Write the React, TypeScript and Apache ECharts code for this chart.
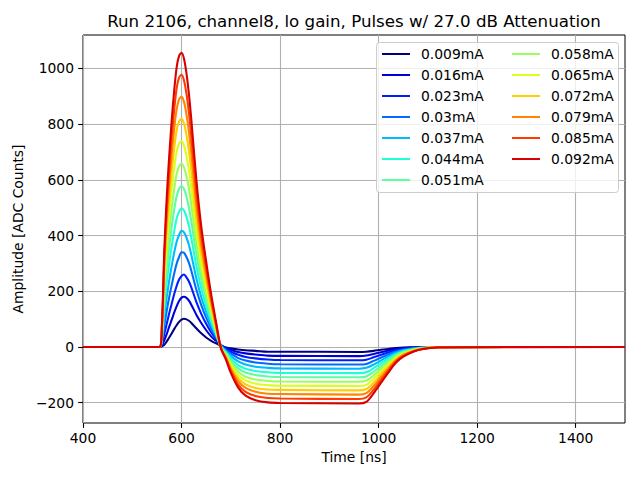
import React, { useEffect, useRef } from "react";
import * as echarts from "echarts";

const titleText = "Run 2106, channel8, lo gain, Pulses w/ 27.0 dB Attenuation";
const xName = "Time [ns]";
const yName = "Amplitude [ADC Counts]";

const xTicks = [400, 600, 800, 1000, 1200, 1400];
const yTicks = [-200, 0, 200, 400, 600, 800, 1000];

const times = [
  400, 555, 560, 565, 570, 575, 580, 585, 590, 595, 600, 605, 610, 615, 620, 630, 640, 650, 660, 670, 680,
  690, 700, 715, 730, 750, 775, 800, 960, 975, 990, 1005, 1020, 1035, 1050, 1070, 1090, 1120, 1500,
];

const labels = [
  "0.009mA", "0.016mA", "0.023mA", "0.03mA", "0.037mA", "0.044mA", "0.051mA",
  "0.058mA", "0.065mA", "0.072mA", "0.079mA", "0.085mA", "0.092mA",
];

const colors = [
  "#00007f", "#0000d9", "#001dff", "#006cff", "#00baff", "#1cffda", "#5cff9b",
  "#9bff5b", "#daff1c", "#ffce00", "#ff8500", "#ff3c00", "#d90000",
];

const cur009 = [0, 0, 2, 8, 20, 34, 48, 64, 78, 90, 98, 101, 99, 94, 86, 67, 49, 34, 22, 13, 5, -2, -5, -9, -12, -14, -17, -17, -18, -17, -14, -10, -7, -4, -2, -1, 0, 0, 0];
const cur016 = [0, 0, 5, 24, 47, 73, 97, 123, 146, 165, 177, 180, 176, 166, 151, 116, 86, 60, 38, 22, 7, -4, -10, -18, -23, -27, -31, -32, -33, -31, -25, -19, -13, -8, -5, -2, -1, 0, 0];
const cur023 = [0, 0, 10, 47, 84, 121, 155, 189, 219, 242, 255, 260, 250, 235, 213, 162, 119, 83, 53, 29, 7, -7, -17, -28, -36, -41, -45, -47, -48, -46, -37, -28, -19, -12, -7, -3, -1, 0, 0];
const cur030 = [0, 0, 17, 78, 131, 179, 222, 263, 299, 323, 340, 338, 323, 302, 273, 206, 150, 105, 67, 35, 6, -11, -24, -40, -49, -56, -60, -62, -63, -61, -50, -38, -26, -16, -10, -5, -2, 0, 0];
const cur037 = [0, 0, 24, 112, 180, 239, 291, 338, 377, 402, 417, 411, 393, 366, 329, 247, 179, 126, 79, 40, 4, -15, -32, -52, -63, -71, -75, -77, -78, -75, -63, -48, -34, -21, -12, -6, -2, 0, 0];
const cur044 = [0, 0, 31, 146, 231, 301, 362, 415, 460, 486, 498, 490, 467, 434, 389, 291, 210, 148, 93, 46, 2, -19, -41, -65, -78, -86, -91, -93, -94, -91, -76, -58, -41, -26, -15, -8, -3, -1, 0];
const cur051 = [0, 0, 38, 179, 280, 361, 432, 492, 541, 568, 578, 567, 540, 500, 449, 334, 241, 170, 106, 51, 0, -23, -49, -77, -92, -101, -106, -108, -109, -106, -89, -68, -48, -30, -18, -9, -4, -1, 0];
const cur058 = [0, 0, 45, 211, 327, 420, 499, 566, 620, 649, 658, 645, 613, 568, 509, 377, 272, 192, 119, 57, -2, -27, -57, -89, -107, -117, -122, -124, -125, -121, -102, -78, -56, -35, -21, -11, -4, -1, 0];
const cur065 = [0, 0, 52, 244, 376, 480, 568, 642, 701, 731, 738, 723, 686, 635, 568, 421, 303, 214, 133, 63, -4, -31, -64, -101, -120, -132, -137, -139, -140, -136, -115, -88, -63, -39, -24, -12, -5, -1, 0];
const cur072 = [0, 0, 57, 270, 417, 532, 630, 712, 777, 810, 818, 802, 761, 703, 630, 466, 335, 237, 147, 70, -4, -34, -72, -112, -134, -147, -153, -154, -156, -151, -128, -98, -70, -44, -27, -13, -5, -1, 0];
const cur079 = [0, 0, 63, 296, 458, 584, 691, 781, 853, 889, 898, 880, 835, 772, 691, 512, 368, 260, 162, 76, -4, -38, -79, -123, -147, -161, -168, -169, -171, -166, -140, -108, -77, -48, -29, -15, -6, -1, 0];
const cur085 = [0, 0, 68, 322, 498, 635, 752, 850, 928, 967, 977, 957, 909, 840, 752, 557, 401, 283, 176, 83, -5, -41, -86, -135, -161, -176, -183, -185, -187, -181, -153, -118, -84, -52, -32, -16, -7, -1, 0];
const cur092 = [0, 0, 74, 348, 539, 686, 813, 919, 1003, 1045, 1056, 1035, 982, 908, 813, 602, 433, 306, 190, 90, -5, -45, -93, -146, -175, -191, -199, -201, -203, -197, -166, -128, -91, -57, -35, -17, -7, -2, 0];

const seriesValues = [
  cur009, cur016, cur023, cur030, cur037, cur044, cur051,
  cur058, cur065, cur072, cur079, cur085, cur092,
];

const FONT = "DejaVu Sans";
const FS = 13.89;

const fmt = (v: number) => String(v).replace("-", "\u2212");

export default function App() {
  const ref = useRef<HTMLDivElement>(null);

  useEffect(() => {
    if (!ref.current) return;
    const chart = echarts.init(ref.current, null, { renderer: "svg" });

    const series = seriesValues.map((vals, i) => ({
      name: labels[i],
      type: "line",
      data: times.map((t, j) => [t, vals[j]]),
      showSymbol: false,
      symbol: "none",
      smooth: 0.3,
      lineStyle: { width: 2.08, color: colors[i] },
      itemStyle: { color: colors[i] },
      z: 2,
    }));

    const legendCommon = {
      orient: "vertical",
      padding: 0,
      itemWidth: 28,
      itemHeight: 14,
      itemGap: 7.0,
      selectedMode: false,
      itemStyle: { opacity: 0 },
      textStyle: {
        fontFamily: FONT,
        fontSize: FS,
        color: "#000",
        padding: [0, 0, 0, 6],
      },
      z: 5,
    };

    chart.setOption({
      animation: false,
      backgroundColor: "#ffffff",
      textStyle: { fontFamily: FONT },
      grid: {
        left: 83,
        top: 35,
        width: 542,
        height: 388,
        show: true,
        borderColor: "#000",
        borderWidth: 1,
        backgroundColor: "transparent",
      },
      xAxis: {
        type: "value",
        min: 400,
        max: 1500,
        name: xName,
        nameLocation: "middle",
        nameGap: 27,
        nameTextStyle: { fontFamily: FONT, fontSize: FS, color: "#000" },
        axisLine: { show: false, onZero: false },
        axisTick: {
          show: true,
          inside: false,
          length: 4.86,
          lineStyle: { color: "#000", width: 1.1 },
          customValues: xTicks,
        },
        axisLabel: {
          fontFamily: FONT,
          fontSize: FS,
          color: "#000",
          margin: 8,
          customValues: xTicks,
          formatter: fmt,
        },
        splitLine: { show: true, lineStyle: { color: "#b0b0b0", width: 1.1 } },
      },
      yAxis: {
        type: "value",
        min: -273,
        max: 1120,
        splitNumber: 7,
        name: yName,
        nameLocation: "middle",
        nameGap: 50,
        nameTextStyle: { fontFamily: FONT, fontSize: FS, color: "#000" },
        axisLine: { show: false, onZero: false },
        axisTick: {
          show: true,
          inside: false,
          length: 4.86,
          lineStyle: { color: "#000", width: 1.1 },
          customValues: yTicks,
        },
        axisLabel: {
          fontFamily: FONT,
          fontSize: FS,
          color: "#000",
          margin: 9,
          customValues: yTicks,
          formatter: fmt,
        },
        splitLine: { show: true, lineStyle: { color: "#b0b0b0", width: 1.1 } },
      },
      legend: [
        { ...legendCommon, data: labels.slice(0, 7), left: 381, top: 47 },
        { ...legendCommon, data: labels.slice(7), left: 511, top: 47 },
      ],
      graphic: [
        {
          type: "rect",
          z: 4,
          shape: { x: 376.5, y: 42.5, width: 242, height: 150, r: 3 },
          style: { fill: "rgba(255,255,255,0.8)", stroke: "#cccccc", lineWidth: 1 },
        },
        {
          type: "text",
          z: 4,
          x: 354,
          y: 21,
          style: {
            text: titleText,
            fontFamily: FONT,
            fontSize: 16.67,
            fill: "#000",
            align: "center",
            verticalAlign: "middle",
          },
        },
      ],
      series,
    });

    return () => chart.dispose();
  }, []);

  return (
    <div
      ref={ref}
      style={{ position: "absolute", left: 0, top: 0, width: 640, height: 480, background: "#fff" }}
    />
  );
}
